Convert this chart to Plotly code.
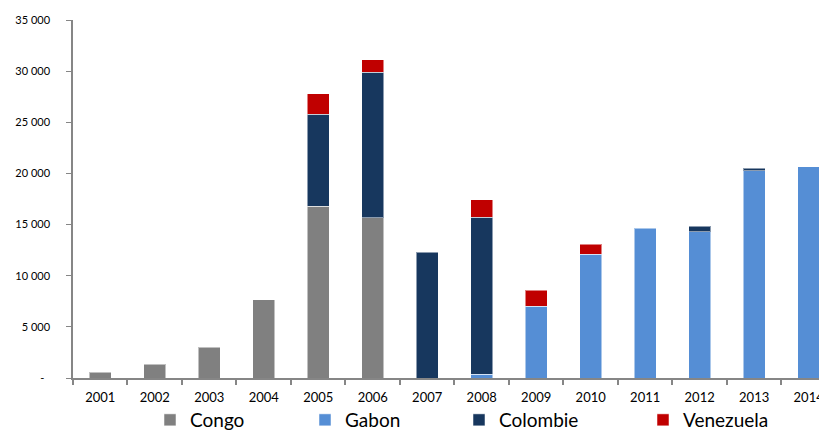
import plotly.graph_objects as go

years = ["2001", "2002", "2003", "2004", "2005", "2006", "2007",
         "2008", "2009", "2010", "2011", "2012", "2013", "2014"]
congo = [550, 1350, 3000, 7650, 16800, 15650, None, None, None, None, None, None, None, None]
gabon = [None, None, None, None, None, None, None, 360, 7000, 12100, 14650, 14300, 20270, 20650]
colombie = [None, None, None, None, 9000, 14250, 12300, 15350, None, None, None, 530, 260, None]
venezuela = [None, None, None, None, 2000, 1200, None, 1700, 1600, 980, None, None, None, None]

y_ticks = [0, 5000, 10000, 15000, 20000, 25000, 30000, 35000]
y_ticktext = ["-\u00a0\u00a0", "5 000", "10 000", "15 000", "20 000", "25 000", "30 000", "35 000"]

series = [
    ("Congo", congo, "#808080", "legend"),
    ("Gabon", gabon, "#558ed5", "legend2"),
    ("Colombie", colombie, "#17375e", "legend3"),
    ("Venezuela", venezuela, "#c00000", "legend4"),
]

fig = go.Figure()
for name, vals, color, lg in series:
    fig.add_trace(go.Bar(
        x=years, y=vals, name=name, legend=lg,
        marker=dict(color=color, line=dict(color="rgba(255,255,255,0.5)", width=1)),
        width=0.4,
    ))

W, H = 819, 430
ml, mt, mb = 73, 20, 52
pw = W - ml
ph = H - mt - mb

def lx(px):
    return (px - ml) / pw

ly = (378 - 420) / ph
leg_font = dict(family="Lato, 'Open Sans', sans-serif", size=19, color="#000000")
def legend_at(px):
    return dict(x=lx(px), y=ly, xanchor="left", yanchor="middle",
                orientation="h", font=leg_font, bgcolor="rgba(0,0,0,0)",
                borderwidth=0, itemclick=False)

fig.update_layout(
    width=W, height=H,
    margin=dict(l=ml, r=0, t=mt, b=mb, pad=0, autoexpand=False),
    barmode="stack",
    plot_bgcolor="white", paper_bgcolor="white",
    font=dict(family="Lato, 'Open Sans', sans-serif", color="#000000"),
    showlegend=True,
    legend=legend_at(150),
    legend2=legend_at(305),
    legend3=legend_at(459),
    legend4=legend_at(643),
    xaxis=dict(
        type="category", range=[-0.5, 13.19], tickson="boundaries",
        showline=True, linecolor="#868686", linewidth=2,
        ticks="outside", ticklen=5, tickcolor="#868686", tickwidth=1.5,
        tickfont=dict(size=13), showgrid=False, zeroline=False,
        ticklabelstandoff=6, automargin=False,
    ),
    yaxis=dict(
        range=[0, 35000], tickvals=y_ticks, ticktext=y_ticktext,
        showline=True, linecolor="#868686", linewidth=1.5,
        ticks="outside", ticklen=5, tickcolor="#868686", tickwidth=1,
        tickfont=dict(size=11), showgrid=False, zeroline=False,
        ticklabelstandoff=14, automargin=False,
    ),
)

fig.write_html("out.html")
